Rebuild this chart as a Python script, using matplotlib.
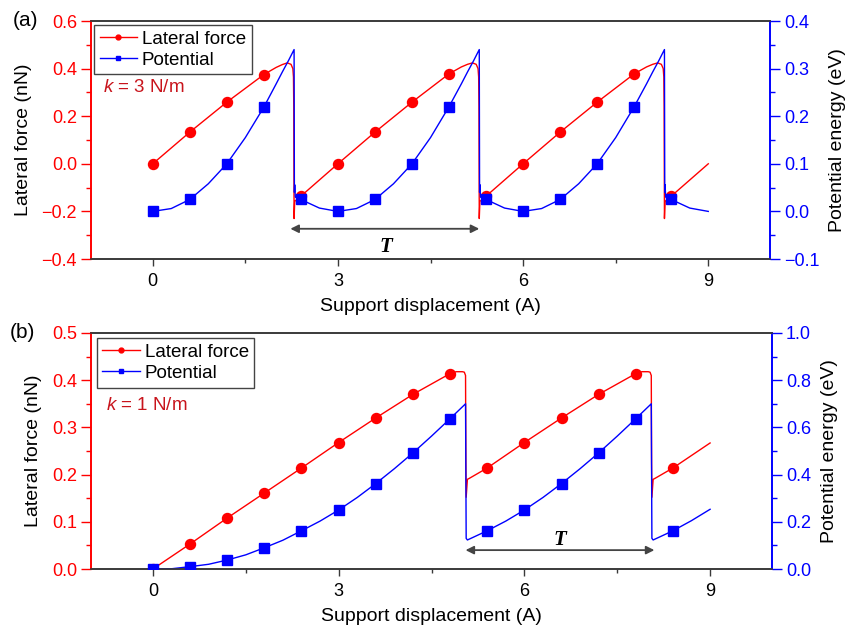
import matplotlib
matplotlib.use("Agg")
import matplotlib.pyplot as plt
from matplotlib.lines import Line2D
from matplotlib.ticker import MultipleLocator

plt.rcParams['font.family'] = ['Liberation Sans', 'DejaVu Sans']
plt.rcParams['mathtext.fontset'] = 'custom'
plt.rcParams['mathtext.it'] = 'Liberation Sans:italic'
plt.rcParams['mathtext.rm'] = 'Liberation Sans'
plt.rcParams['axes.unicode_minus'] = True

RED = '#ff0000'
BLUE = '#0000ff'
DARKRED = '#c8141c'
GRAY = '#3a3a3a'

# ---------------- panel (a): k = 3 N/m ----------------
force_a_x = [0.0, 0.6, 1.2, 1.8, 2.0, 2.1, 2.18, 2.24, 2.27, 2.28, 2.285, 2.29, 2.30, 2.4,
             3.0, 3.6, 4.2, 4.8, 5.0, 5.1, 5.18, 5.24, 5.27, 5.28, 5.285, 5.29, 5.30, 5.4,
             6.0, 6.6, 7.2, 7.8, 8.0, 8.1, 8.18, 8.24, 8.27, 8.28, 8.285, 8.29, 8.30, 8.4,
             9.0]
force_a_y = [0.0, 0.133, 0.259, 0.375, 0.405, 0.417, 0.424, 0.418, 0.40, 0.365, 0.24, -0.23, -0.158, -0.136,
             0.0, 0.133, 0.259, 0.378, 0.407, 0.418, 0.424, 0.418, 0.40, 0.365, 0.24, -0.23, -0.158, -0.136,
             0.0, 0.133, 0.259, 0.378, 0.407, 0.418, 0.424, 0.418, 0.40, 0.365, 0.24, -0.23, -0.158, -0.136,
             0.0]
pot_a_x = [0.0, 0.3, 0.6, 0.9, 1.2, 1.5, 1.8, 2.0, 2.1, 2.2, 2.29, 2.295, 2.30, 2.31, 2.4, 2.7,
           3.0, 3.3, 3.6, 3.9, 4.2, 4.5, 4.8, 5.0, 5.1, 5.2, 5.29, 5.295, 5.30, 5.31, 5.4, 5.7,
           6.0, 6.3, 6.6, 6.9, 7.2, 7.5, 7.8, 8.0, 8.1, 8.2, 8.29, 8.295, 8.30, 8.31, 8.4, 8.7,
           9.0]
pot_a_y = [0.0, 0.006, 0.025, 0.058, 0.1, 0.155, 0.219, 0.268, 0.293, 0.317, 0.34, 0.04, 0.056, 0.03, 0.025, 0.007,
           0.0, 0.006, 0.025, 0.058, 0.1, 0.155, 0.22, 0.268, 0.293, 0.317, 0.34, 0.04, 0.056, 0.03, 0.025, 0.007,
           0.0, 0.006, 0.025, 0.058, 0.1, 0.155, 0.22, 0.268, 0.293, 0.317, 0.34, 0.04, 0.056, 0.03, 0.025, 0.007,
           0.0]
mark_a_x = [0.0, 0.6, 1.2, 1.8, 2.4, 3.0, 3.6, 4.2, 4.8, 5.4, 6.0, 6.6, 7.2, 7.8, 8.4]
mark_force_a = [0.0, 0.133, 0.259, 0.375, -0.136, 0.0, 0.133, 0.259, 0.378, -0.136, 0.0, 0.133, 0.259, 0.378, -0.136]
mark_pot_a = [0.0, 0.025, 0.1, 0.219, 0.025, 0.0, 0.025, 0.1, 0.22, 0.025, 0.0, 0.025, 0.1, 0.22, 0.025]
period_a = [2.23, 5.29]
period_a_y = -0.273

# ---------------- panel (b): k = 1 N/m ----------------
force_b_x = [0.0, 0.6, 1.2, 1.8, 2.4, 3.0, 3.6, 4.2, 4.8, 4.9, 5.0, 5.03, 5.05, 5.055, 5.06, 5.08, 5.11,
             5.4, 6.0, 6.6, 7.2, 7.8, 7.9, 8.0, 8.03, 8.05, 8.055, 8.06, 8.08, 8.11, 8.4, 9.0]
force_b_y = [0.0, 0.053, 0.108, 0.161, 0.214, 0.268, 0.320, 0.370, 0.414, 0.418, 0.418, 0.417, 0.41, 0.225, 0.152, 0.19, 0.192,
             0.214, 0.268, 0.320, 0.370, 0.414, 0.418, 0.418, 0.417, 0.41, 0.225, 0.152, 0.19, 0.192, 0.214, 0.267]
pot_b_x = [0.0, 0.3, 0.6, 0.9, 1.2, 1.5, 1.8, 2.1, 2.4, 2.7, 3.0, 3.3, 3.6, 3.9, 4.2, 4.5, 4.8, 5.05,
           5.06, 5.08, 5.4, 5.7, 6.0, 6.3, 6.6, 6.9, 7.2, 7.5, 7.8, 8.05, 8.06, 8.08, 8.4, 8.7, 9.0]
pot_b_y = [0.0, 0.001, 0.01, 0.02, 0.038, 0.06, 0.09, 0.122, 0.162, 0.203, 0.25, 0.303, 0.362, 0.425, 0.492, 0.563, 0.637, 0.70,
           0.13, 0.123, 0.162, 0.203, 0.25, 0.303, 0.362, 0.425, 0.492, 0.563, 0.637, 0.70, 0.13, 0.123, 0.162, 0.205, 0.253]
mark_b_x = [0.0, 0.6, 1.2, 1.8, 2.4, 3.0, 3.6, 4.2, 4.8, 5.4, 6.0, 6.6, 7.2, 7.8, 8.4]
mark_force_b = [0.0, 0.053, 0.108, 0.161, 0.214, 0.268, 0.320, 0.370, 0.414, 0.214, 0.268, 0.320, 0.370, 0.414, 0.214]
mark_pot_b = [0.0, 0.01, 0.038, 0.09, 0.162, 0.25, 0.362, 0.492, 0.637, 0.162, 0.25, 0.362, 0.492, 0.637, 0.162]
period_b = [5.05, 8.1]
period_b_y = 0.040

xticks = [0, 3, 6, 9]
legend_labels = ['Lateral force', 'Potential']

W, H = 847, 634
fig = plt.figure(figsize=(W / 100, H / 100), dpi=100)


def make_panel(rect, fx, fy, px, py, mx, mf, mp, ylim_l, ylim_r, lmaj, lmin, rmaj, rmin,
               ktext, kpos, period, period_y, tpos, leg_anchor, panel_lbl, lbl_pos):
    ax = fig.add_axes([rect[0] / W, 1 - rect[3] / H, (rect[2] - rect[0]) / W, (rect[3] - rect[1]) / H])
    axr = ax.twinx()
    ax.plot(fx, fy, color=RED, lw=1.0, zorder=2)
    ax.plot(mx, mf, 'o', color=RED, ms=7.2, zorder=3)
    axr.plot(px, py, color=BLUE, lw=1.0, zorder=2)
    axr.plot(mx, mp, 's', color=BLUE, ms=6.8, zorder=3)
    ax.set_zorder(axr.get_zorder() - 1)
    ax.patch.set_visible(False)

    ax.set_xlim(-1, 10)
    ax.set_ylim(*ylim_l)
    axr.set_ylim(*ylim_r)
    ax.set_xticks(xticks)
    ax.xaxis.set_minor_locator(MultipleLocator(1.5))
    ax.yaxis.set_major_locator(MultipleLocator(lmaj))
    ax.yaxis.set_minor_locator(MultipleLocator(lmin))
    axr.yaxis.set_major_locator(MultipleLocator(rmaj))
    axr.yaxis.set_minor_locator(MultipleLocator(rmin))

    for a in (ax, axr):
        for s in a.spines.values():
            s.set_linewidth(1.2)
        a.spines['top'].set_color(GRAY)
        a.spines['bottom'].set_color(GRAY)
        a.spines['left'].set_color(RED)
        a.spines['right'].set_color(BLUE)

    ax.tick_params(axis='x', which='major', direction='out', length=5, width=1.0, color=GRAY,
                   labelsize=13, pad=5, top=False)
    ax.tick_params(axis='x', which='minor', direction='out', length=3, width=1.0, color=GRAY, top=False)
    ax.tick_params(axis='y', which='major', direction='out', length=7, width=1.0, color=RED,
                   labelcolor=RED, labelsize=13, pad=3)
    ax.tick_params(axis='y', which='minor', direction='out', length=3.5, width=1.0, color=RED)
    axr.tick_params(axis='y', which='major', direction='out', length=7, width=1.0, color=BLUE,
                    labelcolor=BLUE, labelsize=13, pad=3)
    axr.tick_params(axis='y', which='minor', direction='out', length=3.5, width=1.0, color=BLUE)

    ax.set_ylabel('Lateral force (nN)', fontsize=14, labelpad=7)
    axr.set_ylabel('Potential energy (eV)', fontsize=14, labelpad=7)
    ax.set_xlabel('Support displacement (A)', fontsize=14, labelpad=6)

    ax.text(kpos[0], kpos[1], ktext, color=DARKRED, fontsize=13.5, ha='left', va='center')

    ax.annotate('', xy=(period[0], period_y), xytext=(period[1], period_y),
                arrowprops=dict(arrowstyle='<|-|>', color='#444444', lw=1.3,
                                mutation_scale=12, shrinkA=0, shrinkB=0), zorder=4)
    ax.text(tpos[0], tpos[1], 'T', family=['Liberation Serif'], style='italic', weight='bold',
            fontsize=15, ha='center', va='center', color='black')

    handles = [Line2D([], [], color=RED, lw=1.0, marker='o', ms=3.5),
               Line2D([], [], color=BLUE, lw=1.0, marker='s', ms=3.2)]
    leg = axr.legend(handles, legend_labels, loc='upper left', bbox_to_anchor=leg_anchor,
                     borderaxespad=0, fontsize=13.5, frameon=True, fancybox=False, framealpha=1,
                     edgecolor='#444444', handlelength=2.0, handletextpad=0.25,
                     labelspacing=0.2, borderpad=0.3)
    leg.get_frame().set_linewidth(1.0)

    fig.text(lbl_pos[0] / W, 1 - lbl_pos[1] / H, panel_lbl, fontsize=15, ha='center', va='center')
    return ax, axr


make_panel((91, 21, 770, 259), force_a_x, force_a_y, pot_a_x, pot_a_y, mark_a_x, mark_force_a, mark_pot_a,
           (-0.4, 0.6), (-0.1, 0.4), 0.2, 0.1, 0.1, 0.05,
           '$k$ = 3 N/m', (-0.8, 0.32), period_a, period_a_y, (3.78, -0.35), (0.0044, 0.983),
           '(a)', (25, 21))
make_panel((91, 333, 772, 569), force_b_x, force_b_y, pot_b_x, pot_b_y, mark_b_x, mark_force_b, mark_pot_b,
           (0.0, 0.5), (0.0, 1.0), 0.1, 0.05, 0.2, 0.1,
           '$k$ = 1 N/m', (-0.75, 0.347), period_b, period_b_y, (6.57, 0.062), (0.0084, 0.9775),
           '(b)', (22, 332))

fig.savefig('out.png', dpi=100)
